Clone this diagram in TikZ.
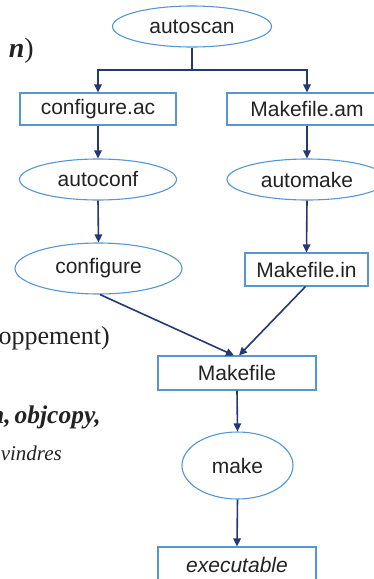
\documentclass[tikz,border=0pt]{standalone}
\usepackage{fontspec}
\setmainfont{Liberation Serif}
\newfontfamily\diagfont{Liberation Sans}
\usetikzlibrary{shapes.geometric,arrows.meta}
\definecolor{edgeblue}{RGB}{86,150,210}
\definecolor{navy}{RGB}{36,56,116}
\definecolor{ink}{RGB}{34,34,34}
\tikzset{
  base/.style={draw=edgeblue, line width=1.1pt, text=ink,
    font=\diagfont\fontsize{21}{25}\selectfont, inner sep=0pt},
  filebox/.style={base, rectangle},
  tool/.style={base, ellipse},
  link/.style={draw=navy, line width=1.6pt},
  flow/.style={link, -{Triangle[length=8pt,width=7.5pt]}},
  margin/.style={inner sep=0pt, text=ink, anchor=base east}
}
\begin{document}
\begin{tikzpicture}[x=1pt,y=-1pt]
\useasboundingbox (0,0) rectangle (374,579);
\clip (0,0) rectangle (374,579);

% text running in from the left column
\node[margin, font=\fontsize{28}{32}\selectfont] (m1) at (34,57) {\textbf{\textit{n}})};
\node[margin, font=\fontsize{26}{30}\selectfont] (m2) at (110,344) {oppement)};
\node[margin, font=\fontsize{25.5}{30}\selectfont] (m3) at (101,423) {\textbf{\textit{n,\hspace{4pt}objcopy,}}};
\node[margin, font=\fontsize{21}{25}\selectfont] (m4) at (62,460) {\textit{vindres}};

% build chain
\node[tool, minimum width=159pt, minimum height=41pt] (autoscan) at (192,26.5) {autoscan};
\node[filebox, minimum width=156pt, minimum height=32pt] (confac) at (98,109) {configure.ac};
\node[filebox, minimum width=160pt, minimum height=32pt] (mkam) at (307,109) {Makefile.am};
\node[tool, minimum width=157pt, minimum height=41pt] (autoconf) at (98,179.5) {autoconf};
\node[tool, minimum width=160pt, minimum height=41pt] (automake) at (307,179.5) {automake};
\node[tool, minimum width=167pt, minimum height=51pt] (configure) at (98.5,268.5) {configure};
\node[filebox, minimum width=123pt, minimum height=33pt] (mkin) at (306.5,269.5) {Makefile.in};
\node[filebox, minimum width=158pt, minimum height=34pt] (makefile) at (237,373) {Makefile};
\node[tool, minimum width=111pt, minimum height=67pt] (make) at (237.5,465.5) {make};
\node[filebox, minimum width=158pt, minimum height=36pt] (exe) at (237,565) {\textit{executable}};

% connectors
\coordinate (split) at (192,70);
\draw[link] (autoscan.south) -- (split);
\draw[flow] (split) -| (confac.north);
\draw[flow] (split) -| (mkam.north);
\draw[flow] (confac.south) -- (autoconf.north);
\draw[flow] (mkam.south) -- (automake.north);
\draw[flow] (autoconf.south) -- (configure.north);
\draw[flow] (automake.south) -- (mkin.north);
\draw[flow] ([xshift=1.5pt]configure.south) -- ([xshift=-3pt]makefile.north);
\draw[flow] ([xshift=-1pt]mkin.south) -- ([xshift=2pt]makefile.north);
\draw[flow] (makefile.south) -- (make.north);
\draw[flow] (make.south) -- (exe.north);
\end{tikzpicture}
\end{document}
